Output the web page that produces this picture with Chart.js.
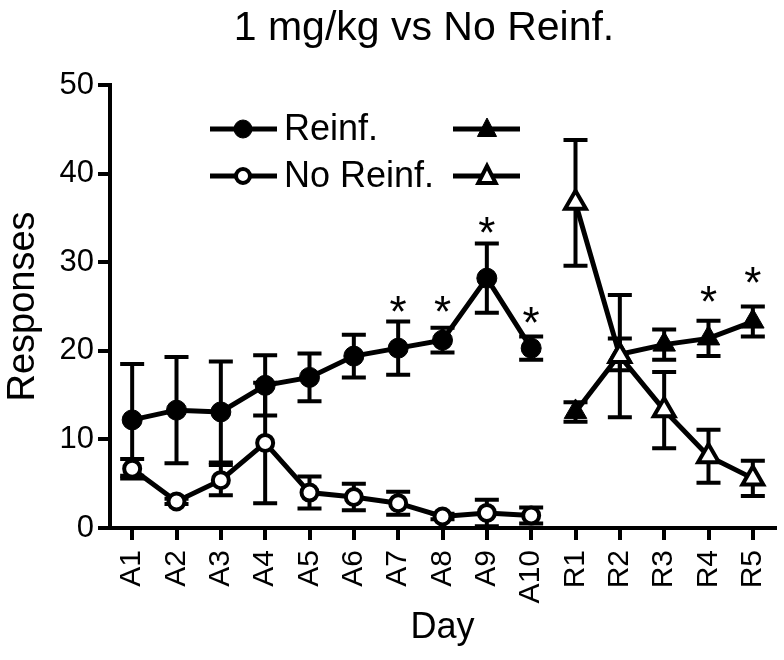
<!DOCTYPE html>
<html>
<head>
<meta charset="utf-8">
<script src="https://cdn.jsdelivr.net/npm/chart.js@4"></script>
<style>
  html, body { margin: 0; padding: 0; background: #fff; }
  #wrap { width: 784px; height: 660px; }
</style>
</head>
<body>
<div id="wrap"><canvas id="chart" width="784" height="660"></canvas></div>
<script>
// ── Data ──────────────────────────────────────────────────────
const days = ['A1', 'A2', 'A3', 'A4', 'A5', 'A6', 'A7', 'A8', 'A9', 'A10', 'R1', 'R2', 'R3', 'R4', 'R5'];

const reinfAcq      = [12.2, 13.3, 13.1, 16.1, 17.0, 19.4, 20.3, 21.2, 28.2, 20.3, null, null, null, null, null];
const reinfAcqSem   = [6.3, 6.0, 5.7, 3.4, 2.7, 2.4, 3.0, 1.4, 3.9, 1.3, null, null, null, null, null];
const noReinfAcq    = [6.7, 3.0, 5.4, 9.6, 4.0, 3.5, 2.8, 1.3, 1.7, 1.4, null, null, null, null, null];
const noReinfAcqSem = [1.1, 0.3, 1.7, 6.8, 1.8, 1.5, 1.3, 0.3, 1.5, 0.9, null, null, null, null, null];

const reinfRev      = [null, null, null, null, null, null, null, null, null, null, 13.1, 19.6, 20.7, 21.4, 23.3];
const reinfRevSem   = [null, null, null, null, null, null, null, null, null, null, 1.1, 1.8, 1.7, 2.0, 1.7];
const noReinfRev    = [null, null, null, null, null, null, null, null, null, null, 36.7, 19.4, 13.3, 8.1, 5.6];
const noReinfRevSem = [null, null, null, null, null, null, null, null, null, null, 7.1, 6.9, 4.3, 3.0, 2.0];

// significance marks (value = where the asterisk sits)
const starDays   = ['A7', 'A8', 'A9', 'A10', 'R4', 'R5'];
const starValues = [25.0, 25.0, 33.9, 23.7, 26.1, 28.2];

const yTicks = [0, 10, 20, 30, 40, 50];

const chartTitle = '1 mg/kg vs No Reinf.';
const legendRows = ['Reinf.', 'No Reinf.'];

const FONT = "'Liberation Sans', Arial, Helvetica, sans-serif";

// ── Error bars (drawn under the markers) ──────────────────────
const errorBars = {
    id: 'errorBars',
    beforeDatasetsDraw(chart) {
        const { ctx, scales: { x, y } } = chart;
        ctx.save();
        ctx.strokeStyle = '#000';
        ctx.lineWidth = 4;
        chart.data.datasets.forEach(ds => {
            ds.data.forEach((v, i) => {
                const e = ds.sem[i];
                if (v == null || e == null) return;
                const px = x.getPixelForValue(i);
                const top = y.getPixelForValue(v + e);
                const bot = y.getPixelForValue(Math.max(v - e, 0));
                ctx.beginPath();
                ctx.moveTo(px, top); ctx.lineTo(px, bot);
                ctx.moveTo(px - 12, top); ctx.lineTo(px + 12, top);
                if (v - e > 0) { ctx.moveTo(px - 12, bot); ctx.lineTo(px + 12, bot); }
                ctx.stroke();
            });
        });
        ctx.restore();
    },
};

// ── Title, asterisks, legend ──────────────────────────────────
const extras = {
    id: 'extras',
    afterDraw(chart) {
        const { ctx, scales: { x, y } } = chart;
        ctx.save();
        ctx.fillStyle = '#000';
        ctx.textAlign = 'center';
        ctx.textBaseline = 'alphabetic';
        ctx.font = '41px ' + FONT;
        ctx.fillText(chartTitle, 424, 40);

        ctx.textBaseline = 'middle';
        ctx.font = '44px ' + FONT;
        starDays.forEach((d, i) => {
            const px = x.getPixelForValue(days.indexOf(d));
            const py = y.getPixelForValue(starValues[i]);
            ctx.fillText('*', px, py + 8);
        });

        // legend: two rows, circle sample | label | triangle sample
        const rowsY = [129, 176];
        ctx.font = '36px ' + FONT;
        ctx.textAlign = 'left';
        ctx.strokeStyle = '#000';
        legendRows.forEach((label, r) => {
            const ly = rowsY[r];
            const filled = r === 0;
            ctx.lineWidth = 5;
            ctx.beginPath(); ctx.moveTo(210, ly); ctx.lineTo(277, ly); ctx.stroke();
            ctx.beginPath();
            ctx.arc(243, ly, filled ? 9 : 7, 0, Math.PI * 2);
            ctx.fillStyle = filled ? '#000' : '#fff';
            ctx.fill();
            ctx.lineWidth = filled ? 1 : 4;
            ctx.stroke();
            ctx.fillStyle = '#000';
            ctx.fillText(label, 284, ly + 1);

            ctx.lineWidth = 5;
            ctx.beginPath(); ctx.moveTo(453, ly); ctx.lineTo(520, ly); ctx.stroke();
            ctx.beginPath();
            const tr = filled ? 11 : 10;
            ctx.moveTo(487, ly - tr);
            ctx.lineTo(487 + tr * 0.87, ly + tr * 0.5 + 2);
            ctx.lineTo(487 - tr * 0.87, ly + tr * 0.5 + 2);
            ctx.closePath();
            ctx.fillStyle = filled ? '#000' : '#fff';
            ctx.fill();
            ctx.lineWidth = filled ? 1 : 4;
            ctx.stroke();
            ctx.fillStyle = '#000';
        });
        ctx.restore();
    },
};

const baseSet = {
    borderColor: '#000',
    borderWidth: 5,
    pointBorderColor: '#000',
    spanGaps: false,
    tension: 0,
};

new Chart(document.getElementById('chart'), {
    type: 'line',
    data: {
        labels: days,
        datasets: [
            { ...baseSet, label: 'No Reinf. (R)', data: noReinfRev, sem: noReinfRevSem,
              pointStyle: 'triangle', pointRadius: 12, pointBackgroundColor: '#fff', pointBorderWidth: 4 },
            { ...baseSet, label: 'Reinf. (R)', data: reinfRev, sem: reinfRevSem,
              pointStyle: 'triangle', pointRadius: 13, pointBackgroundColor: '#000', pointBorderWidth: 1 },
            { ...baseSet, label: 'No Reinf.', data: noReinfAcq, sem: noReinfAcqSem,
              pointStyle: 'circle', pointRadius: 8, pointBackgroundColor: '#fff', pointBorderWidth: 4 },
            { ...baseSet, label: 'Reinf.', data: reinfAcq, sem: reinfAcqSem,
              pointStyle: 'circle', pointRadius: 10, pointBackgroundColor: '#000', pointBorderWidth: 1 },
        ],
    },
    options: {
        responsive: false,
        animation: false,
        events: [],
        layout: { autoPadding: false, padding: { left: 0, top: 85, right: 9, bottom: 0 } },
        plugins: {
            legend: { display: false },
            tooltip: { enabled: false },
            title: { display: false },
        },
        scales: {
            x: {
                offset: true,
                grid: { offset: false, drawOnChartArea: false, color: '#000', lineWidth: 4, tickLength: 12 },
                border: { color: '#000', width: 4 },
                ticks: { color: '#000', font: { family: FONT, size: 30 }, minRotation: 90, maxRotation: 90, padding: 10, autoSkip: false },
                title: { display: true, text: 'Day', color: '#000', font: { family: FONT, size: 36 }, padding: { top: 0, bottom: 10 } },
                afterFit: s => { s.height = 132; s.paddingLeft = 0; s.paddingRight = 0; },
            },
            y: {
                min: 0,
                max: 50,
                afterBuildTicks: s => { s.ticks = yTicks.map(v => ({ value: v })); },
                grid: { drawOnChartArea: false, color: '#000', lineWidth: 4, tickLength: 12 },
                border: { color: '#000', width: 4 },
                ticks: { color: '#000', font: { family: FONT, size: 31 }, padding: 4 },
                title: { display: true, text: 'Responses', color: '#000', font: { family: FONT, size: 38 }, padding: { top: 1, bottom: 0 } },
                afterFit: s => { s.width = 110; },
            },
        },
    },
    plugins: [errorBars, extras],
});
</script>
</body>
</html>
